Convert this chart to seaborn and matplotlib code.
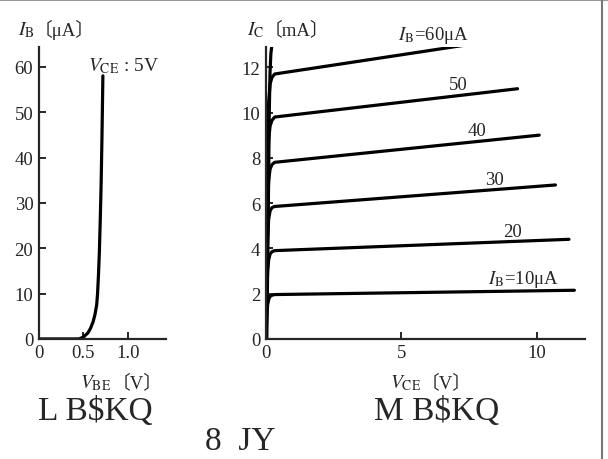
import pandas as pd
import matplotlib.pyplot as plt
import seaborn as sns

# input characteristic (V_CE = 5V)
VBE = [0.0, 0.45, 0.50, 0.55, 0.58, 0.61, 0.63, 0.65, 0.66, 0.67, 0.68, 0.69, 0.70, 0.71, 0.72]
IB = [0.0, 0.0, 0.4, 1.3, 2.3, 3.8, 5.3, 7.5, 10.0, 14.0, 19.0, 26.0, 34.0, 45.0, 58.0]

# output characteristics, one list pair per base current
VCE = [0.0, 0.03, 0.06, 0.1, 0.15, 0.22, 0.32]
IC_KNEE = {
    10: [0.0, 1.0, 1.5, 1.75, 1.88, 1.93, 1.96],
    20: [0.0, 2.0, 3.0, 3.5, 3.75, 3.85, 3.9],
    30: [0.0, 3.0, 4.5, 5.3, 5.65, 5.8, 5.85],
    40: [0.0, 4.0, 6.0, 7.0, 7.5, 7.7, 7.8],
    50: [0.0, 5.0, 7.5, 8.8, 9.4, 9.65, 9.8],
    60: [0.0, 6.0, 9.0, 10.5, 11.25, 11.55, 11.7],
}
VCE_END = {10: 11.4, 20: 11.2, 30: 10.7, 40: 10.1, 50: 9.3, 60: 8.6}
IC_END = {10: 2.15, 20: 4.4, 30: 6.8, 40: 9.0, 50: 11.05, 60: 13.2}
ENV_V = [0.03, 0.08, 0.12, 0.15, 0.18, 0.24]
ENV_I = [0.0, 5.0, 10.0, 11.8, 12.6, 13.2]

CURVE_LABELS = {60: "$I_{\\mathrm{B}}$=60μA", 50: "50", 40: "40", 30: "30", 20: "20",
                10: "$I_{\\mathrm{B}}$=10μA"}
LABEL_POS = {60: (6.2, 13.45), 50: (7.1, 11.25), 40: (7.8, 9.2), 30: (8.45, 7.05),
             20: (9.1, 4.75), 10: (9.5, 2.65)}

sns.set_style("ticks")
plt.rcParams["font.family"] = ["Liberation Serif", "Noto Sans CJK JP", "DejaVu Sans"]
plt.rcParams["mathtext.fontset"] = "stix"
plt.rcParams["axes.linewidth"] = 1.6
plt.rcParams["xtick.direction"] = "in"
plt.rcParams["ytick.direction"] = "in"

fig = plt.figure(figsize=(6.08, 4.6), dpi=100)
ax1 = fig.add_axes([0.064, 0.261, 0.209, 0.635])
ax2 = fig.add_axes([0.4375, 0.261, 0.525, 0.635])

line_kw = dict(color="black", linewidth=2.3, sort=False, estimator=None)

# left panel
df_in = pd.DataFrame({"VBE": VBE, "IB": IB})
sns.lineplot(data=df_in, x="VBE", y="IB", ax=ax1, **line_kw)
ax1.set_xlim(0, 1.43)
ax1.set_ylim(0, 64.4)
ax1.set_xticks([0, 0.5, 1.0])
ax1.set_xticklabels(["0", "0.5", "1.0"])
ax1.set_yticks([0, 10, 20, 30, 40, 50, 60])
ax1.text(0.55, 60.3, "$V_{\\mathrm{CE}}$ : 5V", fontsize=14, va="center")

# right panel
rows = []
for ib in [10, 20, 30, 40, 50, 60]:
    xs = VCE + [VCE_END[ib]]
    ys = IC_KNEE[ib] + [IC_END[ib]]
    for x, y in zip(xs, ys):
        rows.append({"VCE": x, "IC": y, "IB": ib})
df_out = pd.DataFrame(rows)
for ib, grp in df_out.groupby("IB"):
    sns.lineplot(data=grp, x="VCE", y="IC", ax=ax2, **line_kw)
    tx, ty = LABEL_POS[ib]
    ax2.text(tx, ty, CURVE_LABELS[ib], fontsize=13.5, ha="center", va="center", clip_on=False)
df_env = pd.DataFrame({"VCE": ENV_V, "IC": ENV_I})
sns.lineplot(data=df_env, x="VCE", y="IC", ax=ax2, **line_kw)
ax2.set_xlim(0, 11.8)
ax2.set_ylim(0, 12.9)
ax2.set_xticks([0, 5, 10])
ax2.set_yticks([0, 2, 4, 6, 8, 10, 12])

for ax in (ax1, ax2):
    sns.despine(ax=ax)
    ax.set_xlabel("")
    ax.set_ylabel("")
    ax.tick_params(labelsize=13.5, length=5, width=1.4, pad=4)

# axis titles: math symbol and bracketed unit drawn as separate texts
def axis_title(x_sym, x_unit, y, sym, unit):
    fig.text(x_sym / 608, 1 - y / 460, sym, fontsize=14, va="center")
    fig.text(x_unit / 608, 1 - y / 460, unit, fontsize=13.5, va="center")

axis_title(18, 34, 30, "$I_{\\mathrm{B}}$", "〔μA〕")
axis_title(247, 264, 30, "$I_{\\mathrm{C}}$", "〔mA〕")
axis_title(80, 112, 383, "$V_{\\mathrm{BE}}$", "〔V〕")
axis_title(390, 421, 383, "$V_{\\mathrm{CE}}$", "〔V〕")

# garbled caption glyphs from the scan
fig.text(95 / 608, 1 - 412 / 460, "L B$KQ", fontsize=24, ha="center", va="center")
fig.text(437 / 608, 1 - 412 / 460, "M B$KQ", fontsize=24, ha="center", va="center")
fig.text(240 / 608, 1 - 442 / 460, "8  JY", fontsize=24, ha="center", va="center")

# scan border
fig.add_artist(plt.Line2D([0, 1], [0.998, 0.998], color="#999999", lw=1.5, transform=fig.transFigure))
fig.add_artist(plt.Line2D([602 / 608, 602 / 608], [0, 1], color="#777777", lw=1.5, transform=fig.transFigure))

fig.savefig("out.png", dpi=100)
